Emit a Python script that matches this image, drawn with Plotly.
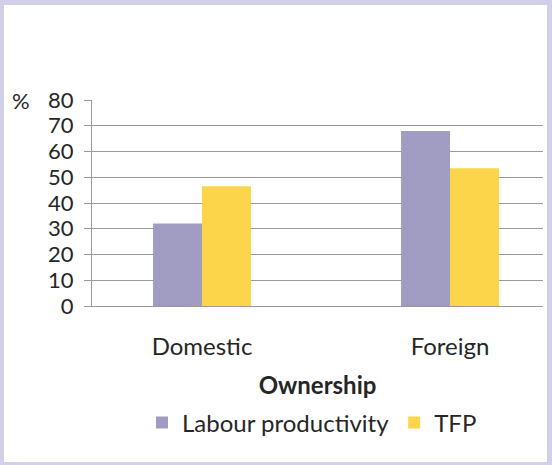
import plotly.graph_objects as go

categories = ["Domestic", "Foreign"]
labour_productivity = [32, 68]
tfp = [46.5, 53.5]
series_names = ["Labour productivity", "TFP"]
y_ticks = [0, 10, 20, 30, 40, 50, 60, 70, 80]

FONT = "Lato"
FS = 24
TXT = "#262626"

fig = go.Figure()
fig.add_trace(go.Bar(x=categories, y=labour_productivity, name=series_names[0],
                     marker=dict(color="#a09cc2", line=dict(width=0))))
fig.add_trace(go.Bar(x=categories, y=tfp, name=series_names[1],
                     marker=dict(color="#fdd54a", line=dict(width=0))))

# plot area: x 92..543, y 100..306 (px)
def px_x(p):
    return (p - 92) / 451.0

def px_y(p):
    return (306 - p) / 206.0

fig.update_layout(
    width=552, height=465,
    margin=dict(l=92, r=9, t=100, b=159, pad=0),
    paper_bgcolor="#d2d0e8",
    plot_bgcolor="white",
    barmode="group",
    bargap=0.605,
    bargroupgap=0,
    font=dict(family=FONT, size=FS, color=TXT),
    showlegend=True,
    legend=dict(orientation="h", x=px_x(142), xanchor="left",
                y=px_y(423), yanchor="middle",
                font=dict(family=FONT, size=FS, color=TXT),
                bgcolor="rgba(0,0,0,0)", itemwidth=30, tracegroupgap=0),
    xaxis=dict(range=[-110 / 248.0, 1 + 93 / 248.0], showline=True,
               linecolor="#9a9a9a", linewidth=1, ticks="", showgrid=False,
               tickfont=dict(family=FONT, size=FS, color=TXT),
               ticklabelstandoff=19,
               title=dict(text="<b>Ownership</b>", standoff=18,
                          font=dict(family=FONT, size=FS, color=TXT)),
               fixedrange=True),
    yaxis=dict(range=[0, 80], tickvals=y_ticks, showline=True,
               linecolor="#9a9a9a", linewidth=1, ticks="outside", ticklen=7,
               tickcolor="#9a9a9a", showgrid=True, gridcolor="#9a9a9a",
               gridwidth=1, zeroline=False,
               tickfont=dict(family=FONT, size=22, color=TXT),
               ticklabelstandoff=6, fixedrange=True),
    shapes=[dict(type="rect", xref="paper", yref="paper",
                 x0=px_x(4), x1=px_x(547), y0=px_y(462), y1=px_y(5),
                 fillcolor="white", line=dict(width=0), layer="below")],
    annotations=[dict(text="%", xref="paper", yref="paper", x=px_x(21), y=1,
                      xanchor="center", yanchor="middle", showarrow=False,
                      font=dict(family=FONT, size=22, color=TXT))],
)

fig.write_html("out.html", post_script="document.body.style.margin='0';",
               config={"displayModeBar": False})
